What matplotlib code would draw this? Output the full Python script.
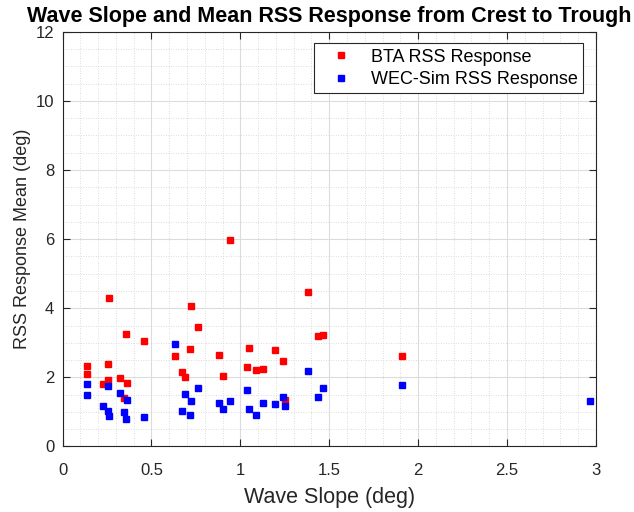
import numpy as np
import matplotlib
matplotlib.use("Agg")
from matplotlib import pyplot as plt
from matplotlib.ticker import MultipleLocator, FormatStrFormatter

plt.rcParams["font.family"] = ["Liberation Sans", "DejaVu Sans"]

# wave slope (deg) for each run, with the mean RSS response from both models
wave_slope = [0.136, 0.140, 0.228, 0.254, 0.256, 0.264, 0.326, 0.345, 0.358, 0.361,
              0.459, 0.630, 0.673, 0.690, 0.718, 0.722, 0.762, 0.882, 0.900, 0.940,
              1.038, 1.047, 1.090, 1.128, 1.197, 1.240, 1.254, 1.379, 1.436, 1.464,
              1.907, 2.966]
bta_rss = [2.34, 2.10, 1.80, 1.92, 2.38, 4.29, 1.97, 1.40, 3.24, 1.83,
           3.04, 2.61, 2.15, 2.00, 2.82, 4.06, 3.47, 2.64, 2.05, 5.96,
           2.29, 2.86, 2.20, 2.24, 2.79, 2.47, 1.35, 4.47, 3.19, 3.22,
           2.62, np.nan]
wecsim_rss = [1.82, 1.50, 1.18, 1.75, 1.04, 0.88, 1.55, 1.00, 0.80, 1.34,
              0.85, 2.97, 1.02, 1.52, 0.92, 1.31, 1.70, 1.25, 1.08, 1.31,
              1.62, 1.08, 0.92, 1.26, 1.22, 1.43, 1.17, 2.17, 1.42, 1.70,
              1.77, 1.31]

axcol = "#262626"

fig = plt.figure(figsize=(6.34, 5.12), dpi=100)
ax = fig.add_axes([0.0986, 0.128, 0.8414, 0.81])

ax.plot(wave_slope, bta_rss, "s", color="red", ms=4, mec="red", label="BTA RSS Response")
ax.plot(wave_slope, wecsim_rss, "s", color="blue", ms=4, mec="blue", label="WEC-Sim RSS Response")

ax.set_xlim(0, 3)
ax.set_ylim(0, 12)
ax.xaxis.set_major_locator(MultipleLocator(0.5))
ax.xaxis.set_minor_locator(MultipleLocator(0.1))
ax.yaxis.set_major_locator(MultipleLocator(2))
ax.yaxis.set_minor_locator(MultipleLocator(0.5))
ax.xaxis.set_major_formatter(FormatStrFormatter("%g"))
ax.yaxis.set_major_formatter(FormatStrFormatter("%g"))

ax.grid(which="major", color="#dcdcdc", linewidth=0.8)
ax.grid(which="minor", color="#d0d0d0", linestyle=(0, (1, 2)), linewidth=0.6)
ax.set_axisbelow(True)

ax.tick_params(which="both", direction="in", top=True, right=True, colors=axcol,
               labelsize=12)
ax.tick_params(which="major", length=5, width=0.8)
ax.tick_params(which="minor", length=0)
ax.tick_params(axis="x", pad=12)
ax.tick_params(axis="y", pad=6)
for s in ax.spines.values():
    s.set_color(axcol)
    s.set_linewidth(0.8)

ax.set_xlabel("Wave Slope (deg)", fontsize=15.5, color=axcol, labelpad=6.5)
ax.set_ylabel("RSS Response Mean (deg)", fontsize=13, color=axcol, labelpad=3)
ax.set_title("Wave Slope and Mean RSS Response from Crest to Trough",
             fontsize=15.5, fontweight="bold", pad=7)

leg = ax.legend(loc="upper right", fontsize=13, fancybox=False, framealpha=1,
                edgecolor=axcol, handlelength=2.4, handletextpad=0.45,
                borderpad=0.3, labelspacing=0.3, borderaxespad=0,
                bbox_to_anchor=(0.9756, 0.9723))
leg.get_frame().set_linewidth(0.8)

fig.savefig("out.png", dpi=100)
